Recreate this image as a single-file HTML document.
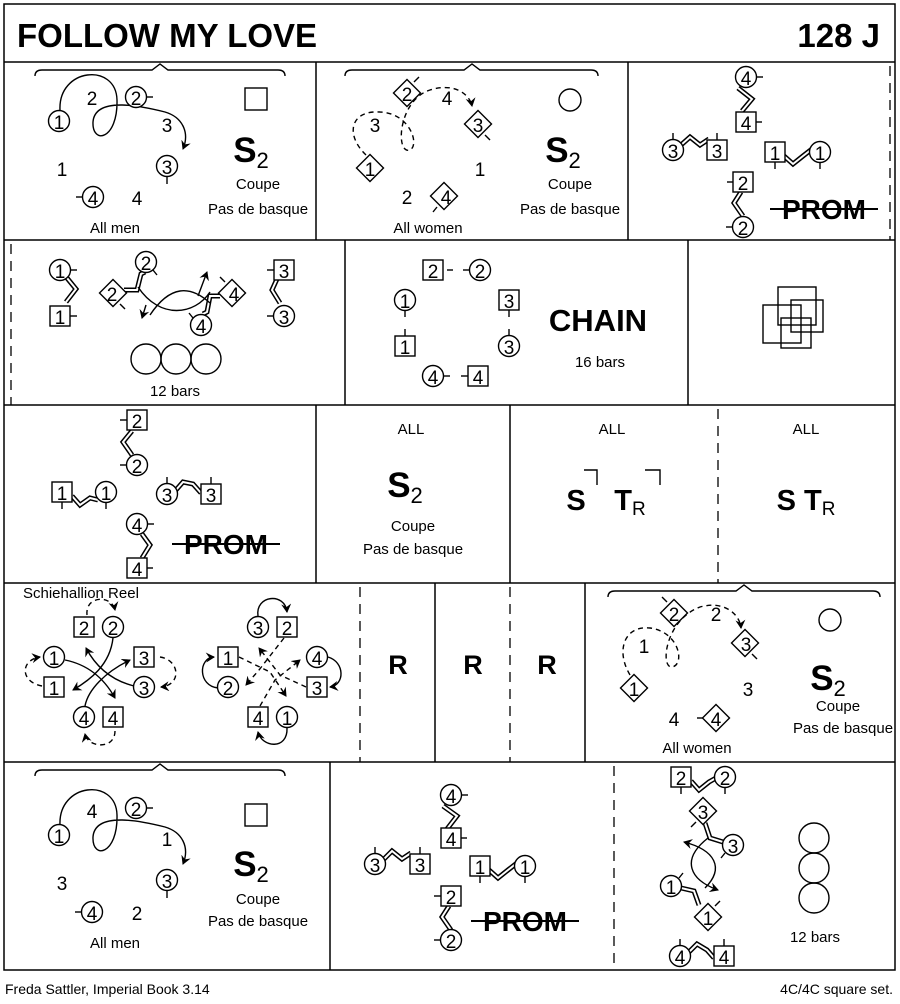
<!DOCTYPE html>
<html><head><meta charset="utf-8"><style>
html,body{margin:0;padding:0;background:#fff}
svg{display:block}
text{font-family:"Liberation Sans",Arial,sans-serif;fill:#000}
.n{font-size:19px;text-anchor:middle;transform:translateY(1px)}
.t{font-size:15px;text-anchor:middle}
.b{font-weight:bold;text-anchor:middle}
.sh{fill:#fff;stroke:#000;stroke-width:1.4}
.ln{fill:none;stroke:#000;stroke-width:1.4}
.ds{fill:none;stroke:#000;stroke-width:1.4;stroke-dasharray:5 4}
.zb{fill:none;stroke:#000;stroke-width:5}
.zw{fill:none;stroke:#fff;stroke-width:2}
</style></head><body>
<svg width="900" height="1004" viewBox="0 0 900 1004" xmlns="http://www.w3.org/2000/svg">
<defs>
<marker id="ar" markerWidth="10" markerHeight="10" refX="8" refY="5" orient="auto" markerUnits="userSpaceOnUse"><path d="M0,0 L9,5 L0,10 L3,5 z" fill="#000"/></marker>
<symbol id="c" overflow="visible"><circle cx="0" cy="0" r="10.5" class="sh"/></symbol>
<symbol id="s" overflow="visible"><rect x="-10" y="-10" width="20" height="20" class="sh"/></symbol>
<symbol id="d" overflow="visible"><polygon points="0,-13.5 13.5,0 0,13.5 -13.5,0" class="sh"/></symbol>
</defs>

<rect x="4" y="4" width="891" height="966" fill="none" stroke="#000" stroke-width="1.5"/>
<g stroke="#000" stroke-width="1.5">
<line x1="4" y1="62" x2="895" y2="62"/>
<line x1="4" y1="240" x2="895" y2="240"/>
<line x1="4" y1="405" x2="895" y2="405"/>
<line x1="4" y1="583" x2="895" y2="583"/>
<line x1="4" y1="762" x2="895" y2="762"/>
<line x1="316" y1="62" x2="316" y2="240"/>
<line x1="628" y1="62" x2="628" y2="240"/>
<line x1="345" y1="240" x2="345" y2="405"/>
<line x1="688" y1="240" x2="688" y2="405"/>
<line x1="316" y1="405" x2="316" y2="583"/>
<line x1="510" y1="405" x2="510" y2="583"/>
<line x1="435" y1="583" x2="435" y2="762"/>
<line x1="585" y1="583" x2="585" y2="762"/>
<line x1="330" y1="762" x2="330" y2="970"/>
</g>
<g stroke="#000" stroke-width="1.3" stroke-dasharray="10 7">
<line x1="890" y1="66" x2="890" y2="240"/>
<line x1="11" y1="244" x2="11" y2="405"/>
<line x1="718" y1="409" x2="718" y2="583"/>
<line x1="360" y1="587" x2="360" y2="762"/>
<line x1="510" y1="587" x2="510" y2="762"/>
<line x1="614" y1="766" x2="614" y2="970"/>
</g>

<text x="17" y="47" font-size="33" font-weight="bold">FOLLOW MY LOVE</text>
<text x="880" y="47" font-size="33" font-weight="bold" text-anchor="end">128 J</text>
<text x="5" y="994" font-size="14">Freda Sattler, Imperial Book 3.14</text>
<text x="893" y="994" font-size="14" text-anchor="end">4C/4C  square set.</text>

<!-- ROW 1 cell 1 -->
<path class="ln" d="M35,76 Q35,70 42,70 L152,70 L160,64 L168,70 L278,70 Q285,70 285,76"/>
<path class="ln" d="M60,110 C58,68 116,62 117,100 C118,140 92,145 93,122 C95,95 145,107 165,112 C182,117 190,132 183,149" marker-end="url(#ar)"/>
<use href="#c" x="59" y="121"/><text class="n" x="59" y="128">1</text>
<use href="#c" x="136" y="97"/><text class="n" x="136" y="104">2</text><line class="ln" x1="147" y1="97" x2="153" y2="97"/>
<use href="#c" x="167" y="166"/><text class="n" x="167" y="173">3</text><line class="ln" x1="167" y1="177" x2="167" y2="184"/>
<use href="#c" x="93" y="197"/><text class="n" x="93" y="204">4</text><line class="ln" x1="76" y1="197" x2="82" y2="197"/>
<text class="n" x="92" y="104">2</text><text class="n" x="167" y="131">3</text><text class="n" x="62" y="175">1</text><text class="n" x="137" y="204">4</text>
<rect x="245" y="88" width="22" height="22" class="sh"/>
<text class="b" x="251" y="162" font-size="35">S<tspan font-size="22" font-weight="normal" dy="6">2</tspan></text>
<text class="t" x="258" y="189">Coupe</text><text class="t" x="258" y="214">Pas de basque</text>
<text class="t" x="115" y="233">All men</text>

<!-- ROW 1 cell 2 -->
<path class="ln" d="M345,76 Q345,70 352,70 L464,70 L472,64 L480,70 L591,70 Q598,70 598,76"/>
<path class="ds" d="M366,155 C345,135 350,110 380,112 C410,113 420,145 410,150 C395,155 398,100 430,90 C455,82 470,95 472,106" marker-end="url(#ar)"/>
<use href="#d" x="407" y="93"/><text class="n" x="407" y="100">2</text><line class="ln" x1="414" y1="82" x2="419" y2="77"/>
<use href="#d" x="478" y="124"/><text class="n" x="478" y="131">3</text><line class="ln" x1="485" y1="135" x2="490" y2="140"/>
<use href="#d" x="370" y="168"/><text class="n" x="370" y="175">1</text>
<use href="#d" x="444" y="196"/><text class="n" x="446" y="203">4</text><line class="ln" x1="437" y1="207" x2="433" y2="212"/>
<text class="n" x="447" y="104">4</text><text class="n" x="375" y="131">3</text><text class="n" x="480" y="175">1</text><text class="n" x="407" y="203">2</text>
<circle cx="570" cy="100" r="11" class="sh"/>
<text class="b" x="563" y="162" font-size="35">S<tspan font-size="22" font-weight="normal" dy="6">2</tspan></text>
<text class="t" x="570" y="189">Coupe</text><text class="t" x="570" y="214">Pas de basque</text>
<text class="t" x="428" y="233">All women</text>

<!-- ROW 1 cell 3 -->
<path class="zb" d="M738,88 L752,99 L742,111"/><path class="zw" d="M738,88 L752,99 L742,111"/>
<path class="zb" d="M681,145 L690,137 L700,145 L709,139"/><path class="zw" d="M681,145 L690,137 L700,145 L709,139"/>
<path class="zb" d="M784,156 L793,164 L803,156 L812,149"/><path class="zw" d="M784,156 L793,164 L803,156 L812,149"/>
<path class="zb" d="M741,192 L734,203 L743,216"/><path class="zw" d="M741,192 L734,203 L743,216"/>
<use href="#c" x="746" y="77"/><text class="n" x="746" y="84">4</text><line class="ln" x1="757" y1="77" x2="763" y2="77"/>
<use href="#s" x="746" y="122"/><text class="n" x="746" y="129">4</text><line class="ln" x1="756" y1="122" x2="762" y2="122"/>
<use href="#c" x="673" y="150"/><text class="n" x="673" y="157">3</text><line class="ln" x1="673" y1="133" x2="673" y2="139"/>
<use href="#s" x="717" y="150"/><text class="n" x="717" y="157">3</text><line class="ln" x1="717" y1="133" x2="717" y2="140"/>
<use href="#s" x="775" y="152"/><text class="n" x="775" y="159">1</text><line class="ln" x1="775" y1="162" x2="775" y2="169"/>
<use href="#c" x="820" y="152"/><text class="n" x="820" y="159">1</text><line class="ln" x1="820" y1="163" x2="820" y2="169"/>
<use href="#s" x="743" y="182"/><text class="n" x="743" y="189">2</text><line class="ln" x1="727" y1="182" x2="733" y2="182"/>
<use href="#c" x="743" y="227"/><text class="n" x="743" y="234">2</text><line class="ln" x1="726" y1="227" x2="732" y2="227"/>
<text class="b" x="824" y="219" font-size="28">PROM</text><line x1="770" y1="209" x2="878" y2="209" stroke="#000" stroke-width="2"/>

<!-- ROW 2 cell 1 -->
<path class="zb" d="M67,278 L76,289 L66,302"/><path class="zw" d="M67,278 L76,289 L66,302"/>
<path class="zb" d="M124,290 L137,290 L141,274 L145,272"/><path class="zw" d="M124,290 L137,290 L141,274 L145,272"/>
<path class="zb" d="M220,296 L210,296 L207,312 L203,314"/><path class="zw" d="M220,296 L210,296 L207,312 L203,314"/>
<path class="zb" d="M277,279 L272,290 L280,303"/><path class="zw" d="M277,279 L272,290 L280,303"/>
<path class="ln" d="M138,287 C160,320 195,315 210,292" />
<path class="ln" d="M150,315 C170,285 190,285 210,303" />
<path class="ln" d="M146,305 L142,318" marker-end="url(#ar)"/>
<path class="ln" d="M198,296 L207,272" marker-end="url(#ar)"/>
<use href="#c" x="60" y="270"/><text class="n" x="60" y="277">1</text><line class="ln" x1="71" y1="270" x2="77" y2="270"/>
<use href="#s" x="60" y="316"/><text class="n" x="60" y="323">1</text><line class="ln" x1="70" y1="316" x2="77" y2="316"/>
<use href="#d" x="113" y="293"/><text class="n" x="112" y="300">2</text><line class="ln" x1="120" y1="304" x2="125" y2="309"/>
<use href="#c" x="146" y="262"/><text class="n" x="146" y="269">2</text><line class="ln" x1="153" y1="270" x2="157" y2="275"/>
<use href="#d" x="232" y="293"/><text class="n" x="234" y="300">4</text><line class="ln" x1="225" y1="282" x2="220" y2="277"/>
<use href="#c" x="201" y="325"/><text class="n" x="201" y="332">4</text><line class="ln" x1="193" y1="318" x2="189" y2="313"/>
<use href="#s" x="284" y="270"/><text class="n" x="284" y="277">3</text><line class="ln" x1="267" y1="270" x2="274" y2="270"/>
<use href="#c" x="284" y="316"/><text class="n" x="284" y="323">3</text><line class="ln" x1="267" y1="316" x2="273" y2="316"/>
<circle cx="146" cy="359" r="15" class="ln"/><circle cx="176" cy="359" r="15" class="ln"/><circle cx="206" cy="359" r="15" class="ln"/>
<text class="t" x="175" y="396">12 bars</text>

<!-- ROW 2 cell 2 -->
<use href="#s" x="433" y="270"/><text class="n" x="433" y="277">2</text><line class="ln" x1="447" y1="270" x2="453" y2="270"/>
<use href="#c" x="480" y="270"/><text class="n" x="480" y="277">2</text><line class="ln" x1="463" y1="270" x2="469" y2="270"/>
<use href="#c" x="405" y="300"/><text class="n" x="405" y="307">1</text><line class="ln" x1="405" y1="311" x2="405" y2="317"/>
<use href="#s" x="405" y="346"/><text class="n" x="405" y="353">1</text><line class="ln" x1="405" y1="329" x2="405" y2="336"/>
<use href="#s" x="509" y="300"/><text class="n" x="509" y="307">3</text><line class="ln" x1="509" y1="310" x2="509" y2="317"/>
<use href="#c" x="509" y="346"/><text class="n" x="509" y="353">3</text><line class="ln" x1="509" y1="329" x2="509" y2="335"/>
<use href="#c" x="433" y="376"/><text class="n" x="433" y="383">4</text><line class="ln" x1="444" y1="376" x2="450" y2="376"/>
<use href="#s" x="478" y="376"/><text class="n" x="478" y="383">4</text><line class="ln" x1="461" y1="376" x2="468" y2="376"/>
<text class="b" x="598" y="331" font-size="31">CHAIN</text>
<text class="t" x="600" y="367">16 bars</text>

<!-- ROW 2 cell 3 -->
<g class="ln">
<rect x="778" y="287" width="38" height="38"/><rect x="791" y="300" width="32" height="32"/>
<rect x="763" y="305" width="38" height="38"/><rect x="781" y="318" width="30" height="30"/>
</g>

<!-- ROW 3 cell 1 -->
<path class="zb" d="M132,431 L123,442 L132,455"/><path class="zw" d="M132,431 L123,442 L132,455"/>
<path class="zb" d="M72,496 L80,505 L90,498 L98,500"/><path class="zw" d="M72,496 L80,505 L90,498 L98,500"/>
<path class="zb" d="M176,490 L183,482 L193,484 L201,493"/><path class="zw" d="M176,490 L183,482 L193,484 L201,493"/>
<path class="zb" d="M142,534 L150,545 L142,558"/><path class="zw" d="M142,534 L150,545 L142,558"/>
<use href="#s" x="137" y="420"/><text class="n" x="137" y="427">2</text><line class="ln" x1="120" y1="420" x2="127" y2="420"/>
<use href="#c" x="137" y="465"/><text class="n" x="137" y="472">2</text><line class="ln" x1="120" y1="465" x2="126" y2="465"/>
<use href="#s" x="62" y="492"/><text class="n" x="62" y="499">1</text><line class="ln" x1="62" y1="502" x2="62" y2="509"/>
<use href="#c" x="106" y="492"/><text class="n" x="106" y="499">1</text><line class="ln" x1="106" y1="503" x2="106" y2="509"/>
<use href="#c" x="167" y="494"/><text class="n" x="167" y="501">3</text><line class="ln" x1="167" y1="477" x2="167" y2="483"/>
<use href="#s" x="211" y="494"/><text class="n" x="211" y="501">3</text><line class="ln" x1="211" y1="477" x2="211" y2="484"/>
<use href="#c" x="137" y="524"/><text class="n" x="137" y="531">4</text><line class="ln" x1="148" y1="524" x2="154" y2="524"/>
<use href="#s" x="137" y="568"/><text class="n" x="137" y="575">4</text><line class="ln" x1="147" y1="568" x2="153" y2="568"/>
<text class="b" x="226" y="554" font-size="28">PROM</text><line x1="172" y1="544" x2="280" y2="544" stroke="#000" stroke-width="2"/>

<!-- ROW 3 cells 2-4 -->
<text class="t" x="411" y="434" font-size="19">ALL</text>
<text class="b" x="405" y="497" font-size="35">S<tspan font-size="22" font-weight="normal" dy="6">2</tspan></text>
<text class="t" x="413" y="531">Coupe</text><text class="t" x="413" y="554">Pas de basque</text>
<text class="t" x="612" y="434" font-size="19">ALL</text>
<text class="b" x="576" y="510" font-size="29">S</text>
<text class="b" x="630" y="510" font-size="29">T<tspan font-size="19" font-weight="normal" dy="5">R</tspan></text>
<path class="ln" d="M584,470 L597,470 L597,485"/><path class="ln" d="M645,470 L660,470 L660,485"/>
<text class="t" x="806" y="434" font-size="19">ALL</text>
<text class="b" x="806" y="510" font-size="29">S T<tspan font-size="19" font-weight="normal" dy="5">R</tspan></text>

<!-- ROW 4 cell 1 left -->
<text x="23" y="598" font-size="15">Schiehallion Reel</text>
<path class="ds" d="M87,615 C85,595 112,595 115,610" marker-end="url(#ar)"/>
<path class="ds" d="M42,686 C20,682 20,660 40,657" marker-end="url(#ar)"/>
<path class="ds" d="M160,657 C180,660 182,685 161,687" marker-end="url(#ar)"/>
<path class="ds" d="M115,731 C115,750 88,748 85,734" marker-end="url(#ar)"/>
<path class="ln" d="M113,638 C110,665 90,680 73,690" marker-end="url(#ar)"/>
<path class="ln" d="M65,660 C90,665 105,680 115,698" marker-end="url(#ar)"/>
<path class="ln" d="M134,686 C110,680 95,665 86,648" marker-end="url(#ar)"/>
<path class="ln" d="M85,706 C88,690 105,672 130,660" marker-end="url(#ar)"/>
<use href="#s" x="84" y="627"/><text class="n" x="84" y="634">2</text>
<use href="#c" x="113" y="627"/><text class="n" x="113" y="634">2</text>
<use href="#c" x="54" y="657"/><text class="n" x="54" y="664">1</text>
<use href="#s" x="54" y="687"/><text class="n" x="54" y="694">1</text>
<use href="#s" x="144" y="657"/><text class="n" x="144" y="664">3</text>
<use href="#c" x="144" y="687"/><text class="n" x="144" y="694">3</text>
<use href="#c" x="84" y="717"/><text class="n" x="84" y="724">4</text>
<use href="#s" x="113" y="717"/><text class="n" x="113" y="724">4</text>
<!-- right -->
<path class="ln" d="M258,616 C255,595 285,592 287,612" marker-end="url(#ar)"/>
<path class="ln" d="M218,688 C198,686 198,658 214,657" marker-end="url(#ar)"/>
<path class="ln" d="M328,657 C345,662 345,685 330,687" marker-end="url(#ar)"/>
<path class="ln" d="M287,728 C288,750 262,748 258,732" marker-end="url(#ar)"/>
<path class="ds" d="M284,638 L259,670 L246,685" marker-end="url(#ar)"/>
<path class="ds" d="M239,657 L270,672 L286,696" marker-end="url(#ar)"/>
<path class="ds" d="M306,687 L280,675 L259,648" marker-end="url(#ar)"/>
<path class="ds" d="M260,706 L275,680 L300,660" marker-end="url(#ar)"/>
<use href="#c" x="258" y="627"/><text class="n" x="258" y="634">3</text>
<use href="#s" x="287" y="627"/><text class="n" x="287" y="634">2</text>
<use href="#s" x="228" y="657"/><text class="n" x="228" y="664">1</text>
<use href="#c" x="228" y="687"/><text class="n" x="228" y="694">2</text>
<use href="#c" x="317" y="657"/><text class="n" x="317" y="664">4</text>
<use href="#s" x="317" y="687"/><text class="n" x="317" y="694">3</text>
<use href="#s" x="258" y="717"/><text class="n" x="258" y="724">4</text>
<use href="#c" x="287" y="717"/><text class="n" x="287" y="724">1</text>

<text class="b" x="398" y="674" font-size="27">R</text>
<text class="b" x="473" y="674" font-size="27">R</text>
<text class="b" x="547" y="674" font-size="27">R</text>

<!-- ROW 4 women -->
<path class="ln" d="M608,597 Q608,591 615,591 L736,591 L744,585 L752,591 L873,591 Q880,591 880,597"/>
<path class="ds" d="M630,675 C615,650 625,625 650,628 C680,632 685,665 672,667 C660,668 665,620 700,607 C725,600 740,615 741,628" marker-end="url(#ar)"/>
<use href="#d" x="674" y="613"/><text class="n" x="674" y="620">2</text><line class="ln" x1="667" y1="602" x2="662" y2="597"/>
<use href="#d" x="745" y="643"/><text class="n" x="746" y="650">3</text><line class="ln" x1="752" y1="654" x2="757" y2="659"/>
<use href="#d" x="634" y="688"/><text class="n" x="634" y="695">1</text>
<use href="#d" x="716" y="718"/><text class="n" x="716" y="725">4</text><line class="ln" x1="703" y1="718" x2="697" y2="718"/>
<text class="n" x="716" y="620">2</text><text class="n" x="644" y="652">1</text><text class="n" x="748" y="695">3</text><text class="n" x="674" y="725">4</text>
<circle cx="830" cy="620" r="11" class="sh"/>
<text class="b" x="828" y="690" font-size="35">S<tspan font-size="22" font-weight="normal" dy="6">2</tspan></text>
<text class="t" x="838" y="711">Coupe</text><text class="t" x="843" y="733">Pas de basque</text>
<text class="t" x="697" y="753">All women</text>

<!-- ROW 5 cell 1 -->
<path class="ln" d="M35,776 Q35,770 42,770 L152,770 L160,764 L168,770 L278,770 Q285,770 285,776"/>
<path class="ln" d="M60,825 C58,783 116,777 117,815 C118,855 92,860 93,837 C95,810 145,822 165,827 C182,832 190,847 183,864" marker-end="url(#ar)"/>
<use href="#c" x="59" y="835"/><text class="n" x="59" y="842">1</text>
<use href="#c" x="136" y="808"/><text class="n" x="136" y="815">2</text><line class="ln" x1="147" y1="808" x2="153" y2="808"/>
<use href="#c" x="167" y="880"/><text class="n" x="167" y="887">3</text><line class="ln" x1="167" y1="891" x2="167" y2="898"/>
<use href="#c" x="92" y="912"/><text class="n" x="92" y="919">4</text><line class="ln" x1="75" y1="912" x2="81" y2="912"/>
<text class="n" x="92" y="817">4</text><text class="n" x="167" y="845">1</text><text class="n" x="62" y="889">3</text><text class="n" x="137" y="919">2</text>
<rect x="245" y="804" width="22" height="22" class="sh"/>
<text class="b" x="251" y="876" font-size="35">S<tspan font-size="22" font-weight="normal" dy="6">2</tspan></text>
<text class="t" x="258" y="904">Coupe</text><text class="t" x="258" y="926">Pas de basque</text>
<text class="t" x="115" y="948">All men</text>

<!-- ROW 5 cell 2 -->
<path class="zb" d="M443,806 L457,816 L447,829"/><path class="zw" d="M443,806 L457,816 L447,829"/>
<path class="zb" d="M383,860 L392,851 L402,859 L411,853"/><path class="zw" d="M383,860 L392,851 L402,859 L411,853"/>
<path class="zb" d="M489,870 L498,878 L508,870 L517,863"/><path class="zw" d="M489,870 L498,878 L508,870 L517,863"/>
<path class="zb" d="M449,906 L442,917 L451,930"/><path class="zw" d="M449,906 L442,917 L451,930"/>
<use href="#c" x="451" y="795"/><text class="n" x="451" y="802">4</text><line class="ln" x1="462" y1="795" x2="468" y2="795"/>
<use href="#s" x="451" y="838"/><text class="n" x="451" y="845">4</text><line class="ln" x1="461" y1="838" x2="467" y2="838"/>
<use href="#c" x="375" y="864"/><text class="n" x="375" y="871">3</text><line class="ln" x1="375" y1="847" x2="375" y2="853"/>
<use href="#s" x="420" y="864"/><text class="n" x="420" y="871">3</text><line class="ln" x1="420" y1="847" x2="420" y2="854"/>
<use href="#s" x="480" y="866"/><text class="n" x="480" y="873">1</text><line class="ln" x1="480" y1="876" x2="480" y2="883"/>
<use href="#c" x="525" y="866"/><text class="n" x="525" y="873">1</text><line class="ln" x1="525" y1="877" x2="525" y2="883"/>
<use href="#s" x="451" y="896"/><text class="n" x="451" y="903">2</text><line class="ln" x1="434" y1="896" x2="441" y2="896"/>
<use href="#c" x="451" y="940"/><text class="n" x="451" y="947">2</text><line class="ln" x1="434" y1="940" x2="440" y2="940"/>
<text class="b" x="525" y="931" font-size="28">PROM</text><line x1="471" y1="921" x2="579" y2="921" stroke="#000" stroke-width="2"/>

<!-- ROW 5 cell 3 -->
<path class="zb" d="M691,781 L699,790 L709,782 L716,778"/><path class="zw" d="M691,781 L699,790 L709,782 L716,778"/>
<path class="zb" d="M705,823 L710,838 L723,842"/><path class="zw" d="M705,823 L710,838 L723,842"/>
<path class="zb" d="M681,888 L694,891 L699,905"/><path class="zw" d="M681,888 L694,891 L699,905"/>
<path class="zb" d="M689,952 L697,944 L707,950 L714,958"/><path class="zw" d="M689,952 L697,944 L707,950 L714,958"/>
<path class="ln" d="M708,838 C680,860 690,880 718,890" marker-end="url(#ar)"/>
<path class="ln" d="M705,888 C725,868 715,850 684,842" marker-end="url(#ar)"/>
<use href="#s" x="681" y="777"/><text class="n" x="681" y="784">2</text><line class="ln" x1="681" y1="787" x2="681" y2="794"/>
<use href="#c" x="725" y="777"/><text class="n" x="725" y="784">2</text><line class="ln" x1="725" y1="788" x2="725" y2="794"/>
<use href="#d" x="703" y="811"/><text class="n" x="703" y="818">3</text><line class="ln" x1="696" y1="822" x2="691" y2="827"/>
<use href="#c" x="733" y="845"/><text class="n" x="733" y="852">3</text><line class="ln" x1="725" y1="853" x2="721" y2="858"/>
<use href="#c" x="671" y="886"/><text class="n" x="671" y="893">1</text><line class="ln" x1="679" y1="878" x2="683" y2="873"/>
<use href="#d" x="708" y="917"/><text class="n" x="708" y="924">1</text><line class="ln" x1="715" y1="906" x2="720" y2="901"/>
<use href="#c" x="680" y="956"/><text class="n" x="680" y="963">4</text><line class="ln" x1="680" y1="939" x2="680" y2="945"/>
<use href="#s" x="724" y="956"/><text class="n" x="724" y="963">4</text><line class="ln" x1="724" y1="939" x2="724" y2="946"/>
<circle cx="814" cy="838" r="15" class="ln"/><circle cx="814" cy="868" r="15" class="ln"/><circle cx="814" cy="898" r="15" class="ln"/>
<text class="t" x="815" y="942">12 bars</text>
</svg>
</body></html>
